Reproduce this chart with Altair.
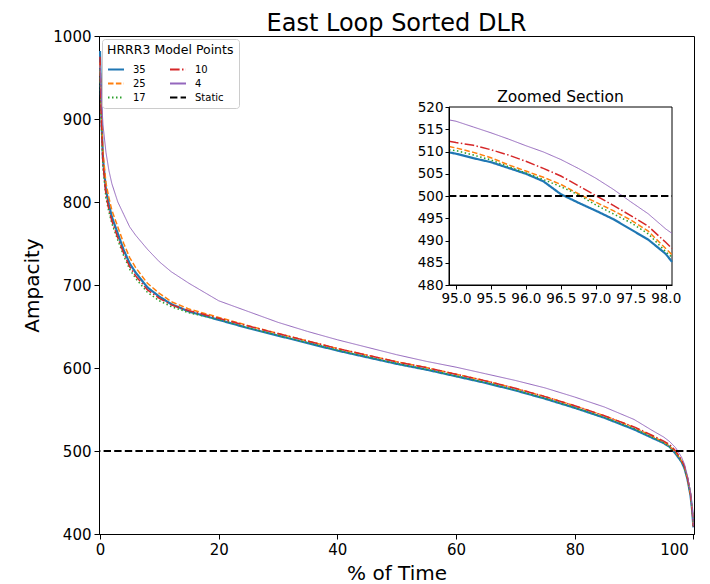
import altair as alt
import pandas as pd

FONT = "DejaVu Sans"
TITLE = "East Loop Sorted DLR"
X_TITLE = "% of Time"
Y_TITLE = "Ampacity"
LEGEND_TITLE = "HRRR3 Model Points"
INSET_TITLE = "Zoomed Section"

series_names = ["35", "25", "17", "10", "4"]
legend_order = ["35", "25", "17", "10", "4", "Static"]
legend_colors = ["#1f77b4", "#ff7f0e", "#2ca02c", "#d62728", "#9467bd", "#000000"]
legend_dashes = [[1, 0], [5.5, 2.4], [1.5, 2.5], [9.6, 2.4, 1.5, 2.4], [1, 0], [7.4, 3.2]]

# main curves (% of time -> ampacity)
pct_time = [0, 0.25, 0.5, 1, 1.5, 2, 3, 4, 5, 6, 8, 10, 12, 15, 20, 25, 30, 35, 40, 45,
            50, 55, 60, 65, 70, 75, 80, 85, 90, 93, 95, 96, 97, 98, 98.5, 99, 99.5, 99.8, 100]
amp_35 = [982, 900, 852, 815, 797, 782, 762, 742, 726, 715, 697, 686, 677, 668, 658, 648, 639, 630, 621, 613,
          605, 598, 590, 582, 573, 563, 552, 540, 526, 516, 509.5, 505, 496.7, 487, 479, 466, 447, 428, 408]
amp_25 = [968, 905, 860, 823, 805, 790, 770, 750, 733, 721, 702, 690, 680, 671, 661, 651, 641.5, 632.5, 623.5, 615.5,
          607.5, 600.5, 592.5, 584.5, 575.5, 565.5, 554.5, 542.5, 528.5, 518, 510.8, 505.6, 498.6, 488.2, 480.5, 467, 448, 429, 409]
amp_17 = [960, 888, 842, 805, 788, 774, 754, 735, 719, 708, 691, 681, 674, 666.5, 658.5, 648.5, 639.5, 630.5, 621.5, 613.5,
          605.5, 598.5, 590.5, 582.5, 573.5, 563.5, 552.5, 540.5, 527, 517, 510.2, 505.2, 498, 487.5, 480, 466.5, 447.5, 428.5, 408.5]
amp_10 = [975, 893, 846, 809, 791, 777, 757, 738, 722, 711, 694, 684, 676, 669, 660, 650.5, 641.5, 632.5, 623.5, 615.5,
          607.5, 600.5, 592.5, 584.5, 575.5, 565.5, 554.5, 542.5, 529, 519, 512, 507.8, 500.1, 489.6, 481.5, 468, 449, 430, 409]
amp_4 = [965, 925, 893, 860, 838, 822, 800, 785, 770, 760, 743, 728, 716, 702, 681, 668, 655, 644, 634, 625,
         616, 608, 601, 593, 585, 576, 565, 553, 538, 525, 516.8, 511.3, 504, 492.6, 484, 470, 451, 432, 410]
static_value = 500

x_domain = [-0.17, 100.1]
y_domain = [400, 1000]
x_ticks = [0, 20, 40, 60, 80, 100]
y_ticks = [400, 500, 600, 700, 800, 900, 1000]

# zoomed section
zoom_x = [94.9, 95.0, 95.25, 95.5, 95.75, 96.0, 96.25, 96.5, 96.75, 97.0, 97.25, 97.5, 97.75, 98.0, 98.09]
zoom_35 = [509.8, 509.5, 508.5, 507.6, 506.3, 505.0, 503.3, 500.4, 498.5, 496.7, 494.8, 492.5, 490.2, 487.0, 485.2]
zoom_25 = [511.1, 510.8, 509.8, 508.6, 507.0, 505.6, 504.2, 502.6, 500.5, 498.6, 496.7, 494.6, 492.1, 488.2, 486.8]
zoom_17 = [510.4, 510.2, 509.2, 508.1, 506.6, 505.2, 503.7, 502.1, 500.3, 498.0, 496.0, 494.0, 491.5, 487.5, 486.2]
zoom_10 = [512.3, 512.0, 511.4, 510.4, 509.2, 507.8, 506.2, 504.5, 502.3, 500.1, 497.9, 495.6, 493.2, 489.6, 488.2]
zoom_4 = [517.1, 516.8, 515.5, 514.2, 512.8, 511.3, 509.9, 508.2, 506.2, 504.0, 501.5, 498.7, 496.0, 492.6, 491.6]
zoom_x_domain = [94.9, 98.09]
zoom_y_domain = [480, 520]
zoom_x_ticks = [95.0, 95.5, 96.0, 96.5, 97.0, 97.5, 98.0]
zoom_y_ticks = [480, 485, 490, 495, 500, 505, 510, 515, 520]

# layout (pixels)
W, H = 595, 498
INSET_X_RANGE = [350, 573]
INSET_Y_RANGE = [249, 71]

main_series = {"35": amp_35, "25": amp_25, "17": amp_17, "10": amp_10, "4": amp_4}
zoom_series = {"35": zoom_35, "25": zoom_25, "17": zoom_17, "10": zoom_10, "4": zoom_4}

main_df = pd.DataFrame([
    {"series": s, "x": x, "y": y}
    for s in series_names for x, y in zip(pct_time, main_series[s])
])
zoom_df = pd.DataFrame([
    {"series": s, "x": x, "y": y}
    for s in series_names for x, y in zip(zoom_x, zoom_series[s])
])
static_df = pd.DataFrame({"series": ["Static"], "y": [static_value]})
static_zoom_df = pd.DataFrame({"series": ["Static"], "x0": [zoom_x_domain[0]],
                               "x1": [zoom_x_domain[1]], "y": [static_value]})
box_df = pd.DataFrame({"x0": [zoom_x_domain[0]], "x1": [zoom_x_domain[1]],
                       "y0": [zoom_y_domain[0]], "y1": [zoom_y_domain[1]]})
inset_title_df = pd.DataFrame({"t": [INSET_TITLE]})
title_df = pd.DataFrame({"t": [TITLE]})

lw_expr = "datum.series === '35' ? 2.2 : (datum.series === '4' ? 1.0 : 1.5)"

color_enc = alt.Color(
    "series:N",
    scale=alt.Scale(domain=legend_order, range=legend_colors),
    legend=alt.Legend(title=LEGEND_TITLE, orient="top-left", columns=2, symbolType="stroke"),
)
dash_enc = alt.StrokeDash(
    "series:N",
    scale=alt.Scale(domain=legend_order, range=legend_dashes),
    legend=alt.Legend(title=LEGEND_TITLE, orient="top-left", columns=2, symbolType="stroke"),
)

main_x = alt.X("x:Q", scale=alt.Scale(domain=x_domain, nice=False, zero=False),
               axis=alt.Axis(title=X_TITLE, values=x_ticks, format="d", labelFontSize=15,
                             titleFontSize=20, tickSize=5, labelPadding=3, titlePadding=6,
                             labelFlush=True, labelFlushOffset=-5, labelOverlap=False))
main_y = alt.Y("y:Q", scale=alt.Scale(domain=y_domain, nice=False, zero=False),
               axis=alt.Axis(title=Y_TITLE, values=y_ticks, format="d", labelFontSize=15,
                             titleFontSize=20, tickSize=5, labelPadding=3, titlePadding=10,
                             labelFlush=False, labelOverlap=False))

main_lines = alt.Chart(main_df).mark_line(clip=True).transform_calculate(
    lw=lw_expr
).encode(
    x=main_x, y=main_y, color=color_enc, strokeDash=dash_enc,
    strokeWidth=alt.StrokeWidth("lw:Q", scale=None),
)
main_static = alt.Chart(static_df).mark_rule(strokeWidth=2).encode(
    y=alt.Y("y:Q"), color=color_enc, strokeDash=dash_enc,
)
main_title = alt.Chart(title_df).mark_text(
    font=FONT, fontSize=24, color="black", baseline="alphabetic", align="center"
).encode(
    text="t:N", x=alt.value(W / 2), y=alt.value(-5),
)
main = alt.layer(main_lines, main_static, main_title)


def zx(field):
    return alt.X(field, type="quantitative",
                 scale=alt.Scale(domain=zoom_x_domain, range=INSET_X_RANGE, nice=False, zero=False),
                 axis=alt.Axis(title=None, orient="bottom", offset=-(H - INSET_Y_RANGE[0]),
                               values=zoom_x_ticks, format=".1f", labelFontSize=13.5,
                               tickSize=4, labelPadding=2, zindex=1,
                               labelFlush=False, labelOverlap=False))


def zy(field):
    return alt.Y(field, type="quantitative",
                 scale=alt.Scale(domain=zoom_y_domain, range=INSET_Y_RANGE, nice=False, zero=False),
                 axis=alt.Axis(title=None, orient="left", offset=-INSET_X_RANGE[0],
                               values=zoom_y_ticks, format="d", labelFontSize=13.5,
                               tickSize=4, labelPadding=2, zindex=1,
                               labelFlush=False, labelOverlap=False))


inset_box = alt.Chart(box_df).mark_rect(fill="white", stroke="black", strokeWidth=1).encode(
    x=zx("x0"), x2="x1", y=zy("y0"), y2="y1"
)
inset_lines = alt.Chart(zoom_df).mark_line().transform_calculate(
    lw=lw_expr
).encode(
    x=zx("x"), y=zy("y"), color=color_enc, strokeDash=dash_enc,
    strokeWidth=alt.StrokeWidth("lw:Q", scale=None),
)
inset_static = alt.Chart(static_zoom_df).mark_rule(strokeWidth=2).encode(
    x=zx("x0"), x2="x1", y=zy("y"), color=color_enc, strokeDash=dash_enc,
)
inset_title = alt.Chart(inset_title_df).mark_text(
    font=FONT, fontSize=15.5, color="black", baseline="alphabetic", align="center"
).encode(
    text="t:N",
    x=alt.value((INSET_X_RANGE[0] + INSET_X_RANGE[1]) / 2),
    y=alt.value(INSET_Y_RANGE[1] - 5),
)
inset = alt.layer(inset_box, inset_lines, inset_static, inset_title)

chart = alt.layer(main, inset).resolve_scale(
    x="independent", y="independent"
).properties(
    width=W, height=H,
    padding={"left": 91, "top": 28, "right": 8, "bottom": 50},
    autosize=alt.AutoSizeParams(type="none"),
).configure_axis(
    labelFont=FONT, titleFont=FONT, labelColor="black", titleColor="black",
    domainColor="black", tickColor="black", grid=False, titleFontWeight="normal",
).configure_view(
    stroke="black", strokeWidth=1,
).configure_legend(
    titleFont=FONT, labelFont=FONT, titleFontSize=12.5, titleFontWeight="normal",
    titleColor="black", labelColor="black", labelFontSize=10, labelOffset=8,
    symbolSize=256, symbolStrokeWidth=1.8, columnPadding=20, rowPadding=0,
    padding=5, offset=3, fillColor="white", strokeColor="#cccccc", cornerRadius=3,
    titlePadding=4,
)

chart.save("out.html", embed_options={"renderer": "svg", "actions": False})
